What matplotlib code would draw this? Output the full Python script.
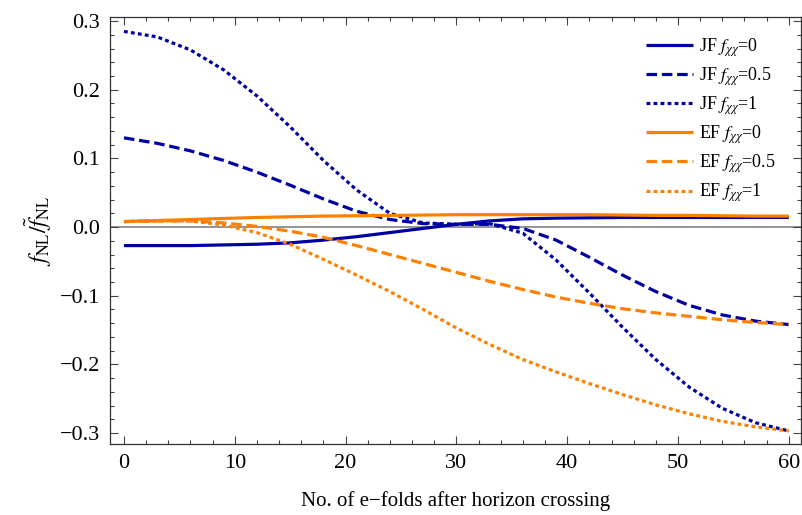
import matplotlib
matplotlib.use("Agg")
import matplotlib.pyplot as plt
from matplotlib.ticker import MultipleLocator

# e-folds after horizon crossing (sample grid)
efolds = [0, 3, 6, 9, 12, 15, 18, 21, 24, 27, 30, 33, 36, 39, 42, 45, 48, 51, 54, 57, 60]

# Jordan frame
jf_0 = [-0.027, -0.027, -0.027, -0.026, -0.025, -0.023, -0.019, -0.014, -0.008, -0.002, 0.004,
        0.009, 0.012, 0.013, 0.0135, 0.014, 0.014, 0.014, 0.014, 0.014, 0.014]
jf_05 = [0.130, 0.122, 0.111, 0.097, 0.080, 0.061, 0.041, 0.023, 0.011, 0.005, 0.004,
         0.004, -0.002, -0.019, -0.044, -0.070, -0.094, -0.114, -0.128, -0.137, -0.142]
jf_1 = [0.285, 0.277, 0.258, 0.229, 0.191, 0.146, 0.097, 0.054, 0.020, 0.006, 0.004,
        0.005, -0.009, -0.048, -0.096, -0.146, -0.193, -0.233, -0.264, -0.285, -0.297]

# Einstein frame
ef_0 = [0.008, 0.0095, 0.011, 0.0125, 0.014, 0.015, 0.016, 0.0165, 0.017, 0.0175, 0.018,
        0.018, 0.018, 0.018, 0.018, 0.0175, 0.017, 0.017, 0.0165, 0.016, 0.016]
ef_05 = [0.008, 0.009, 0.009, 0.006, 0.001, -0.006, -0.015, -0.027, -0.040, -0.053, -0.066,
         -0.079, -0.091, -0.102, -0.111, -0.119, -0.125, -0.130, -0.135, -0.139, -0.142]
ef_1 = [0.008, 0.009, 0.009, 0.003, -0.008, -0.025, -0.047, -0.070, -0.094, -0.120, -0.147,
        -0.171, -0.193, -0.211, -0.228, -0.244, -0.259, -0.272, -0.283, -0.291, -0.297]

labels = [r"JF $f_{\chi\chi}$=0", r"JF $f_{\chi\chi}$=0.5", r"JF $f_{\chi\chi}$=1",
          r"EF $f_{\chi\chi}$=0", r"EF $f_{\chi\chi}$=0.5", r"EF $f_{\chi\chi}$=1"]

plt.rcParams['font.family'] = ['Liberation Serif', 'DejaVu Serif']
plt.rcParams['mathtext.fontset'] = 'stix'

navy = '#0000a3'
orange = '#ff8000'
lw = 2.3
dash = (3.3, 1.5)
dot = (1.2, 1.0)

fig = plt.figure(figsize=(8.03, 5.15), dpi=100)
ax = fig.add_axes([110 / 803, 71 / 515, 691 / 803, 427 / 515])

ax.axhline(0, color='#777777', lw=1.1, zorder=1)

series = [(jf_0, navy, None), (jf_05, navy, dash), (jf_1, navy, dot),
          (ef_0, orange, None), (ef_05, orange, dash), (ef_1, orange, dot)]
for (vals, col, ds), lab in zip(series, labels):
    line, = ax.plot(efolds, vals, color=col, lw=lw, label=lab, solid_capstyle='butt',
                    dash_capstyle='butt', zorder=3)
    if ds is not None:
        line.set_dashes(ds)

ax.set_xlim(-1.26, 61.1)
ax.set_ylim(-0.316, 0.306)

ax.xaxis.set_major_locator(MultipleLocator(10))
ax.xaxis.set_minor_locator(MultipleLocator(2))
ax.yaxis.set_minor_locator(MultipleLocator(0.02))
ax.set_yticks([-0.3, -0.2, -0.1, 0.0, 0.1, 0.2, 0.3])
ax.set_yticklabels(['\u22120.3', '\u22120.2', '\u22120.1', '0.0', '0.1', '0.2', '0.3'])

ax.tick_params(which='both', direction='in', top=True, right=True, color='#444444',
               labelsize=16, width=0.8)
ax.tick_params(which='major', length=6, pad=7)
ax.tick_params(which='minor', length=3)
for sp in ax.spines.values():
    sp.set_color('#333333')
    sp.set_linewidth(0.9)

ax.set_xlabel('No. of e\u2212folds after horizon crossing', fontsize=15, labelpad=13)
ax.set_ylabel(r'$f_{\rm NL}/\tilde{f}_{\rm NL}$', fontsize=17, labelpad=4)

ax.legend(loc='upper left', bbox_to_anchor=(0.776, 0.955), frameon=False, fontsize=13,
          handlelength=2.6, handletextpad=0.3, labelspacing=0.36, borderpad=0,
          borderaxespad=0)

fig.savefig('out.png', dpi=100)
